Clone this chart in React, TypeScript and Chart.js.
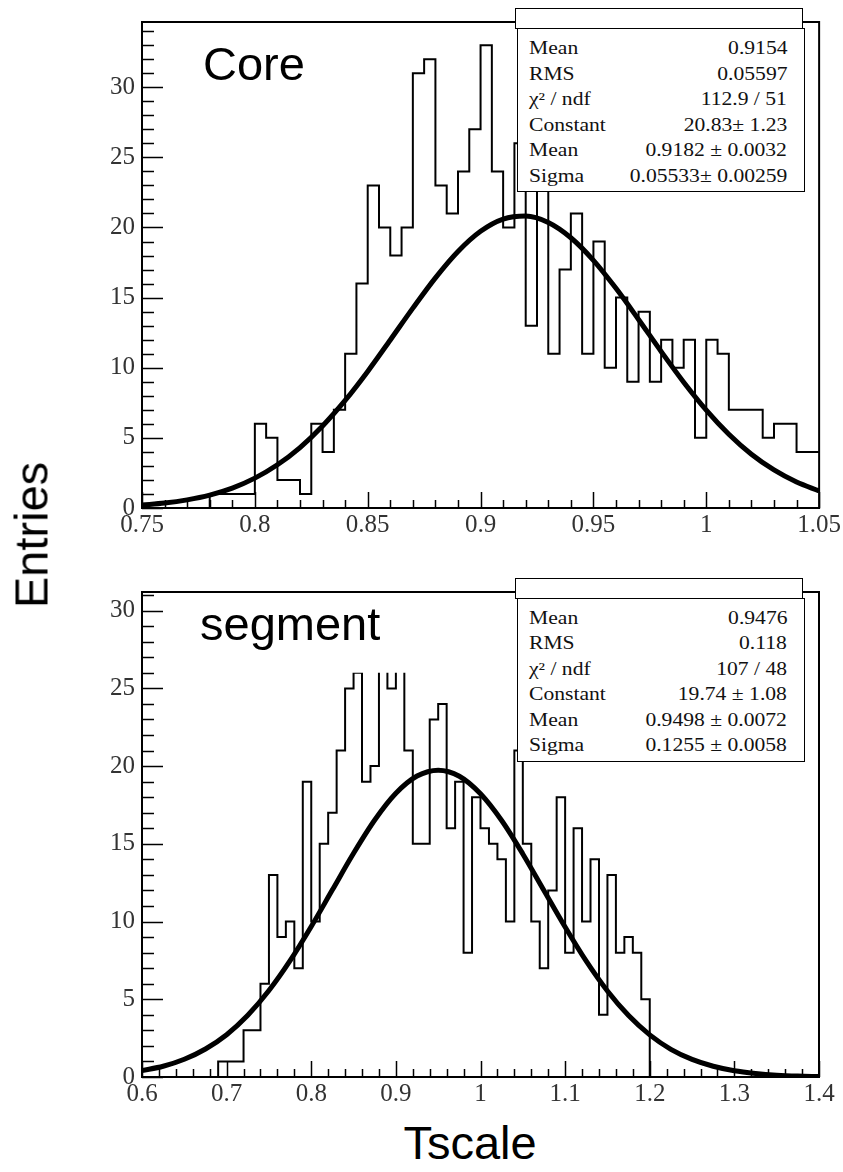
import React, { useEffect, useRef } from "react";
import { Chart, registerables } from "chart.js";

Chart.register(...registerables);

// ---------------- data ----------------
const coreBinLow = 0.75;
const coreBinWidth = 0.005;
const coreCounts = [
  0, 0, 0, 0, 0, 0, 1, 1, 1, 1,
  6, 5, 2, 2, 1, 6, 4, 7, 11, 16,
  23, 20, 18, 20, 31, 32, 23, 21, 24, 27,
  33, 24, 20, 26, 13, 23, 11, 17, 21, 11,
  19, 10, 15, 9, 14, 9, 12, 10, 12, 5,
  12, 11, 7, 7, 7, 5, 6, 6, 4, 4,
];
const coreFitX = [
  0.75, 0.76, 0.77, 0.78, 0.79, 0.8, 0.81, 0.82, 0.83, 0.84, 0.85,
  0.86, 0.87, 0.88, 0.89, 0.9, 0.91, 0.92, 0.93, 0.94, 0.95,
  0.96, 0.97, 0.98, 0.99, 1.0, 1.01, 1.02, 1.03, 1.04, 1.05,
];
const coreFitY = [
  0.21, 0.35, 0.58, 0.92, 1.42, 2.13, 3.08, 4.31, 5.85, 7.67, 9.74,
  11.98, 14.25, 16.41, 18.29, 19.73, 20.6, 20.82, 20.36, 19.27, 17.66,
  15.66, 13.44, 11.16, 8.97, 6.98, 5.26, 3.83, 2.71, 1.85, 1.22,
];
const coreXTicks = [0.75, 0.8, 0.85, 0.9, 0.95, 1.0, 1.05];
const coreYTicks = [0, 5, 10, 15, 20, 25, 30];
const coreStats = [
  ["Mean", "0.9154"],
  ["RMS", "0.05597"],
  ["\u03c7\u00b2 / ndf", "112.9 / 51"],
  ["Constant", "20.83\u00b1 1.23"],
  ["Mean", "0.9182 \u00b1 0.0032"],
  ["Sigma", "0.05533\u00b1 0.00259"],
];

const segBinLow = 0.6;
const segBinWidth = 0.01;
const segCounts = [
  0, 0, 0, 0, 0, 0, 0, 0, 0, 1,
  1, 1, 3, 3, 6, 13, 9, 10, 7, 19,
  10, 15, 17, 21, 25, 26, 19, 20, 30, 25,
  28, 21, 15, 15, 23, 24, 16, 19, 8, 18,
  16, 15, 14, 10, 21, 15, 10, 7, 12, 18,
  8, 16, 10, 14, 4, 13, 8, 9, 8, 5,
  0, 0, 0, 0, 0, 0, 0, 0, 0, 0,
  0, 0, 0, 0, 0, 0, 0, 0, 0, 0,
];
const segFitX = [
  0.6, 0.625, 0.65, 0.675, 0.7, 0.725, 0.75, 0.775, 0.8, 0.825, 0.85,
  0.875, 0.9, 0.925, 0.95, 0.975, 1.0, 1.025, 1.05, 1.075, 1.1,
  1.125, 1.15, 1.175, 1.2, 1.225, 1.25, 1.275, 1.3, 1.325, 1.35, 1.375, 1.4,
];
const segFitY = [
  0.41, 0.69, 1.14, 1.8, 2.72, 3.97, 5.56, 7.48, 9.68, 12.04, 14.39,
  16.53, 18.25, 19.36, 19.74, 19.35, 18.22, 16.5, 14.35, 12.0, 9.65,
  7.45, 5.53, 3.95, 2.71, 1.78, 1.13, 0.69, 0.4, 0.23, 0.12, 0.06, 0.03,
];
const segXTicks = [0.6, 0.7, 0.8, 0.9, 1.0, 1.1, 1.2, 1.3, 1.4];
const segYTicks = [0, 5, 10, 15, 20, 25, 30];
const segStats = [
  ["Mean", "0.9476"],
  ["RMS", "0.118"],
  ["\u03c7\u00b2 / ndf", "107 / 48"],
  ["Constant", "19.74 \u00b1 1.08"],
  ["Mean", "0.9498 \u00b1 0.0072"],
  ["Sigma", "0.1255 \u00b1 0.0058"],
];

// ---------------- styling ----------------
const SERIF = '"Liberation Serif", "Times New Roman", serif';
const SANS = '"Liberation Sans", Arial, Helvetica, sans-serif';

const panels = [
  {
    key: "core",
    top: 0,
    canvasH: 545,
    padRight: 23,
    xAxisH: 37,
    xMin: 0.75,
    xMax: 1.05,
    yMax: 34.65,
    xMinor: 0.01,
    xPerMajor: 5,
    clipAt: null as number | null,
    binLow: coreBinLow,
    binWidth: coreBinWidth,
    counts: coreCounts,
    fitX: coreFitX,
    fitY: coreFitY,
    xTicks: coreXTicks,
    yTicks: coreYTicks,
  },
  {
    key: "seg",
    top: 570,
    canvasH: 545,
    padRight: 24,
    xAxisH: 38,
    xMin: 0.6,
    xMax: 1.4,
    yMax: 31.2,
    xMinor: 0.02,
    xPerMajor: 5,
    clipAt: 26 as number | null,
    binLow: segBinLow,
    binWidth: segBinWidth,
    counts: segCounts,
    fitX: segFitX,
    fitY: segFitY,
    xTicks: segXTicks,
    yTicks: segYTicks,
  },
];

const fmt = (v: number) => String(Math.round(v * 1000) / 1000);

const rootAxes = {
  id: "rootAxes",
  afterDraw(chart: any, _args: any, opts: any) {
    const { ctx, chartArea: a } = chart;
    const x = chart.scales.x;
    const y = chart.scales.y;
    ctx.save();
    ctx.strokeStyle = "#000";
    ctx.lineWidth = 1.5;
    ctx.beginPath();
    // y ticks (inside)
    for (let k = 0; ; k++) {
      const v = k * 1;
      if (v > y.max + 1e-9) break;
      const py = Math.round(y.getPixelForValue(v)) + 0.5;
      const len = k % 5 === 0 ? 21 : 12;
      ctx.moveTo(a.left, py);
      ctx.lineTo(a.left + len, py);
    }
    // x ticks (inside)
    for (let k = 0; ; k++) {
      const v = x.min + k * opts.xMinor;
      if (v > x.max + 1e-9) break;
      const px = Math.round(x.getPixelForValue(v)) + 0.5;
      const len = k % opts.xPerMajor === 0 ? 16 : 8;
      ctx.moveTo(px, a.bottom);
      ctx.lineTo(px, a.bottom - len);
    }
    ctx.stroke();
    ctx.lineWidth = 2;
    ctx.strokeRect(a.left, a.top, a.right - a.left, a.bottom - a.top);
    ctx.restore();
  },
};

const histClip = {
  id: "histClip",
  beforeDatasetDraw(chart: any, args: any, opts: any) {
    if (args.index !== 1 || opts.clipAt == null) return;
    const { ctx, chartArea: a } = chart;
    const yTop = chart.scales.y.getPixelForValue(opts.clipAt);
    ctx.save();
    ctx.beginPath();
    ctx.rect(a.left - 2, yTop, a.right - a.left + 4, a.bottom - yTop + 4);
    ctx.clip();
  },
  afterDatasetDraw(chart: any, args: any, opts: any) {
    if (args.index !== 1 || opts.clipAt == null) return;
    chart.ctx.restore();
  },
};

function HistPanel({ p }: { p: (typeof panels)[number] }) {
  const ref = useRef<HTMLCanvasElement | null>(null);
  useEffect(() => {
    const histPts = p.counts.map((c, i) => ({ x: p.binLow + i * p.binWidth, y: c }));
    histPts.push({
      x: p.binLow + p.counts.length * p.binWidth,
      y: p.counts[p.counts.length - 1],
    });
    const fitPts = p.fitX.map((xv, i) => ({ x: xv, y: p.fitY[i] }));
    const tickFont = { family: SERIF, size: 25 };
    const chart = new Chart(ref.current as HTMLCanvasElement, {
      type: "line",
      data: {
        datasets: [
          {
            data: fitPts,
            borderColor: "#000",
            borderWidth: 5,
            pointRadius: 0,
            cubicInterpolationMode: "monotone",
            fill: false,
          },
          {
            data: histPts,
            borderColor: "#000",
            borderWidth: 2,
            pointRadius: 0,
            stepped: true,
            fill: false,
            borderJoinStyle: "miter",
          },
        ],
      },
      options: {
        animation: false,
        responsive: false,
        devicePixelRatio: 1,
        events: [],
        layout: { padding: { left: 0, right: p.padRight, top: 8, bottom: 0 } },
        plugins: {
          legend: { display: false },
          tooltip: { enabled: false },
          rootAxes: { xMinor: p.xMinor, xPerMajor: p.xPerMajor },
          histClip: { clipAt: p.clipAt },
        } as any,
        scales: {
          x: {
            type: "linear",
            min: p.xMin,
            max: p.xMax,
            grid: { display: false, drawTicks: false },
            border: { display: false },
            ticks: {
              font: tickFont,
              color: "#333",
              padding: 2,
              maxRotation: 0,
              autoSkip: false,
              includeBounds: false,
              callback: (v: any) => fmt(Number(v)),
            },
            afterBuildTicks: (s: any) => {
              s.ticks = p.xTicks.map((v) => ({ value: v }));
            },
            afterFit: (s: any) => {
              s.height = p.xAxisH;
            },
          },
          y: {
            type: "linear",
            min: 0,
            max: p.yMax,
            grid: { display: false, drawTicks: false },
            border: { display: false },
            ticks: {
              font: tickFont,
              color: "#333",
              padding: 7,
              autoSkip: false,
              includeBounds: false,
              callback: (v: any) => fmt(Number(v)),
            },
            afterBuildTicks: (s: any) => {
              s.ticks = p.yTicks.map((v) => ({ value: v }));
            },
            afterFit: (s: any) => {
              s.width = 142;
            },
          },
        },
      } as any,
      plugins: [rootAxes, histClip],
    });
    return () => chart.destroy();
  }, []);
  return (
    <canvas
      ref={ref}
      width={843}
      height={p.canvasH}
      style={{ position: "absolute", left: 0, top: p.top, width: 843, height: p.canvasH }}
    />
  );
}

function StatsBox({ top, rows, step }: { top: number; rows: string[][]; step: number }) {
  const span: React.CSSProperties = {
    display: "inline-block",
  };
  return (
    <>
      <div
        style={{
          position: "absolute",
          left: 515,
          top: top,
          width: 288,
          height: 21,
          border: "1.5px solid #000",
          background: "#fff",
          boxSizing: "border-box",
        }}
      />
      <div
        style={{
          position: "absolute",
          left: 517,
          top: top + 20,
          width: 288,
          height: 164,
          border: "1.5px solid #000",
          background: "#fff",
          boxSizing: "border-box",
        }}
      />
      {rows.map((r, i) => (
        <div
          key={i}
          style={{
            position: "absolute",
            left: 529,
            width: 258,
            top: top + 40 - 11 + i * step,
            height: 22,
            lineHeight: "22px",
            display: "flex",
            justifyContent: "space-between",
            fontFamily: SERIF,
            fontSize: 18,
            color: "#111",
            whiteSpace: "nowrap",
          }}
        >
          <span style={{ ...span, transform: "scaleX(1.2)", transformOrigin: "left center" }}>
            {r[0]}
          </span>
          <span style={{ ...span, transform: "scaleX(1.2)", transformOrigin: "right center" }}>
            {r[1]}
          </span>
        </div>
      ))}
    </>
  );
}

export default function App() {
  const label: React.CSSProperties = {
    position: "absolute",
    fontFamily: SANS,
    fontSize: 47,
    lineHeight: 1,
    color: "#000",
    whiteSpace: "nowrap",
  };
  return (
    <div
      style={{
        position: "absolute",
        left: 0,
        top: 0,
        width: 843,
        height: 1172,
        background: "#fff",
        overflow: "hidden",
      }}
    >
      {panels.map((p) => (
        <HistPanel key={p.key} p={p} />
      ))}
      <StatsBox top={8} rows={coreStats} step={25.6} />
      <StatsBox top={578} rows={segStats} step={25.4} />
      <div style={{ ...label, left: 203, top: 40 }}>Core</div>
      <div style={{ ...label, left: 200, top: 600 }}>segment</div>
      <div
        style={{
          ...label,
          left: 31,
          top: 535,
          transform: "translate(-50%, -50%) rotate(-90deg)",
        }}
      >
        Entries
      </div>
      <div style={{ ...label, left: 470, top: 1142, transform: "translate(-50%, -50%)" }}>
        Tscale
      </div>
    </div>
  );
}
